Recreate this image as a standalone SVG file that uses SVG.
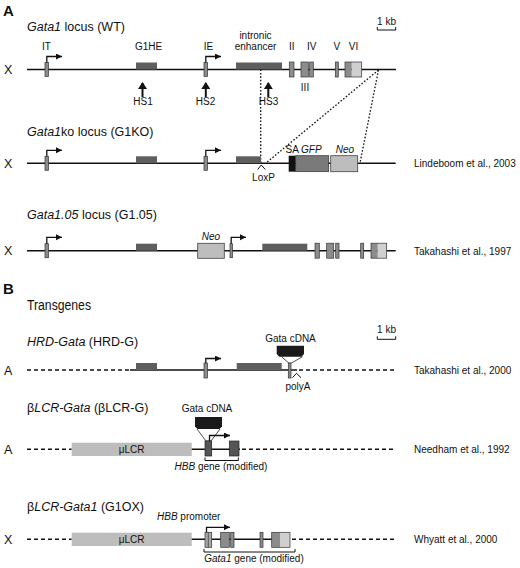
<svg xmlns="http://www.w3.org/2000/svg" width="520" height="568" viewBox="0 0 520 568">
<style>
text{font-family:"Liberation Sans",Arial,sans-serif;fill:#111}
.t{font-size:12.5px}
.s{font-size:10px}
.m{text-anchor:middle}
.i{font-style:italic}
.ln{stroke:#111;stroke-width:1.4;fill:none}
.dash{stroke:#111;stroke-width:1.4;fill:none;stroke-dasharray:4,3}
.dot{stroke:#111;stroke-width:1.3;fill:none;stroke-dasharray:1.6,1.8}
.reg{fill:#5e5e5e}
.ex{fill:#8c8c8c;stroke:#333;stroke-width:0.7}
.exd{fill:#555;stroke:#222;stroke-width:0.7}
.lt{fill:#cfcfcf;stroke:none}
.neo{fill:#bdbdbd;stroke:#444;stroke-width:0.8}
.lcr{fill:#bdbdbd}
.ba{stroke:#111;stroke-width:1.3;fill:none;marker-end:url(#ah)}
.hs{stroke:#111;stroke-width:2;fill:none;marker-end:url(#hh)}
.thin{stroke:#111;stroke-width:1;fill:none}
</style>
<defs>
<marker id="ah" markerUnits="userSpaceOnUse" markerWidth="7" markerHeight="7" refX="6" refY="3" orient="auto"><path d="M0,0 L6,3 L0,6 Z" fill="#111"/></marker>
<marker id="hh" markerUnits="userSpaceOnUse" markerWidth="9" markerHeight="9" refX="6" refY="4.5" orient="auto"><path d="M0,0 L7,4.5 L0,9 Z" fill="#111"/></marker>
</defs>

<text x="3" y="16" style="font-size:15px;font-weight:bold">A</text>

<g id="wt">
<text class="t" x="27" y="31"><tspan class="i">Gata1</tspan> locus (WT)</text>
<text class="t" x="4" y="74">X</text>
<line class="ln" x1="27" y1="69.5" x2="396" y2="69.5"/>
<rect class="ex" x="45" y="62.5" width="3.5" height="14"/>
<path class="ba" d="M46.8,62.5 V56.5 H62"/>
<text class="s m" x="46.5" y="50">IT</text>
<rect class="reg" x="136" y="62.5" width="21" height="7"/>
<text class="s m" x="148.5" y="50">G1HE</text>
<line class="hs" x1="142.5" y1="97" x2="142.5" y2="83"/>
<text class="s m" x="143" y="105">HS1</text>
<rect class="ex" x="204" y="62.5" width="3.5" height="14"/>
<path class="ba" d="M205.8,62.5 V56.5 H221"/>
<text class="s m" x="208.5" y="50">IE</text>
<line class="hs" x1="205.8" y1="97" x2="205.8" y2="83"/>
<text class="s m" x="205.5" y="105">HS2</text>
<rect class="reg" x="236" y="62.5" width="46" height="7"/>
<text class="s m" x="255.5" y="38.5">intronic</text>
<text class="s m" x="255.5" y="50">enhancer</text>
<line class="hs" x1="268.3" y1="97" x2="268.3" y2="83"/>
<text class="s m" x="268.5" y="105">HS3</text>
<rect class="ex" x="289.3" y="62" width="4.7" height="15"/>
<rect class="ex" x="301" y="62" width="7.3" height="15"/>
<rect class="ex" x="309.7" y="62" width="3.6" height="15"/>
<rect class="ex" x="335.3" y="62" width="3" height="15"/>
<rect class="lt" x="351.7" y="62" width="10" height="15"/>
<rect fill="#8c8c8c" x="345" y="62" width="6.7" height="15"/>
<rect x="345" y="62" width="16.7" height="15" fill="none" stroke="#333" stroke-width="0.7"/>
<text class="s m" x="291.7" y="50">II</text>
<text class="s m" x="311.7" y="50">IV</text>
<text class="s m" x="336.8" y="50">V</text>
<text class="s m" x="353.5" y="50">VI</text>
<text class="s m" x="305" y="91">III</text>
<text class="s m" x="386.5" y="25">1 kb</text>
<path class="thin" d="M377.3,27 V30 H395.7 V27"/>
</g>

<g id="connectors">
<path class="dot" d="M260.7,69.5 V163.3"/>
<path class="dot" d="M378.5,70 L266,163"/>
<path class="dot" d="M378.5,70 L360,163"/>
</g>

<g id="g1ko">
<text class="t" x="27" y="136"><tspan class="i">Gata1</tspan>ko locus (G1KO)</text>
<text class="t" x="4" y="168">X</text>
<line class="ln" x1="27" y1="163.3" x2="395.7" y2="163.3"/>
<rect class="ex" x="45" y="156.3" width="3.5" height="14"/>
<path class="ba" d="M46.8,156.3 V150.3 H62"/>
<rect class="reg" x="136" y="156.3" width="21" height="7"/>
<rect class="ex" x="204" y="156.3" width="3.5" height="14"/>
<path class="ba" d="M205.8,156.3 V150.3 H221"/>
<rect class="reg" x="236" y="156.3" width="25" height="7"/>
<path class="thin" d="M257.7,169.5 L261.3,165 L265.3,169.5"/>
<text class="s m" x="263.5" y="181">LoxP</text>
<rect fill="#111" x="288.7" y="155.7" width="7" height="16"/>
<rect fill="#7a7a7a" stroke="#333" stroke-width="0.7" x="295.7" y="155.7" width="33" height="16"/>
<rect class="neo" x="330.7" y="155.7" width="27" height="16"/>
<text class="s" x="285.5" y="152.5">SA <tspan class="i">GFP</tspan></text>
<text class="s m i" x="345" y="152.5">Neo</text>
<text class="s" x="414" y="167">Lindeboom et al., 2003</text>
</g>

<g id="g105">
<text class="t" x="27" y="219"><tspan class="i">Gata1.05</tspan> locus (G1.05)</text>
<text class="t" x="4" y="255">X</text>
<line class="ln" x1="27" y1="250.7" x2="395.7" y2="250.7"/>
<rect class="ex" x="45" y="243.7" width="3.5" height="14"/>
<path class="ba" d="M46.8,243.7 V237.3 H62"/>
<rect class="reg" x="136" y="243.7" width="21" height="7"/>
<rect class="neo" x="197.7" y="243.3" width="26.6" height="15"/>
<text class="s m i" x="211" y="239.5">Neo</text>
<rect class="ex" x="230" y="243.7" width="2.5" height="14"/>
<path class="ba" d="M231.2,243.7 V237.3 H246"/>
<rect class="reg" x="262.3" y="243.7" width="45" height="7"/>
<rect class="ex" x="315" y="243.2" width="4.3" height="15"/>
<rect class="ex" x="326.7" y="243.2" width="7" height="15"/>
<rect class="ex" x="335.7" y="243.2" width="3.3" height="15"/>
<rect class="ex" x="360.7" y="243.2" width="3" height="15"/>
<rect class="lt" x="377.7" y="243.2" width="9" height="15"/>
<rect fill="#8c8c8c" x="371" y="243.2" width="6.7" height="15"/>
<rect x="371" y="243.2" width="15.7" height="15" fill="none" stroke="#333" stroke-width="0.7"/>
<text class="s" x="414" y="255">Takahashi et al., 1997</text>
</g>

<text x="3" y="294" style="font-size:15px;font-weight:bold">B</text>
<text x="27" y="309.5" style="font-size:14px" textLength="64" lengthAdjust="spacingAndGlyphs">Transgenes</text>

<g id="hrdg">
<text class="t" x="27" y="346"><tspan class="i">HRD-Gata</tspan> (HRD-G)</text>
<text class="t" x="4" y="374.5">A</text>
<line class="dash" x1="27" y1="370" x2="130" y2="370"/>
<line class="ln" x1="130" y1="370" x2="297" y2="370"/>
<line class="dash" x1="299" y1="370" x2="396" y2="370"/>
<rect class="reg" x="136" y="363" width="21" height="7"/>
<rect class="ex" x="204" y="363" width="3.5" height="15"/>
<path class="ba" d="M205.8,363 V358.5 H221"/>
<rect class="reg" x="236.7" y="363" width="45" height="7"/>
<path d="M281.5,356.7 L289,363.3 L291,363.3 L302.5,356.7" fill="#fff" stroke="#222" stroke-width="0.8"/>
<path d="M276.7,345.7 H304 V354 L301.5,356.7 H279.2 L276.7,354 Z" fill="#1a1a1a"/>
<rect class="ex" x="288.3" y="363" width="2.7" height="15"/>
<text class="s m" x="290.5" y="341.5">Gata cDNA</text>
<path class="thin" d="M292.5,377.7 L296.5,373.3 L301,377.7"/>
<text class="s m" x="298" y="390">polyA</text>
<text class="s m" x="386.5" y="333">1 kb</text>
<path class="thin" d="M377.3,336.3 V339.3 H395.7 V336.3"/>
<text class="s" x="414" y="374">Takahashi et al., 2000</text>
</g>

<g id="blcrg">
<text class="t" x="27" y="411.7">β<tspan class="i">LCR-Gata</tspan> (βLCR-G)</text>
<text class="t" x="4" y="454">A</text>
<line class="dash" x1="27" y1="449.3" x2="71.7" y2="449.3"/>
<rect class="lcr" x="71.7" y="442.7" width="120" height="13.3"/>
<text class="s m" x="131.7" y="453">μLCR</text>
<line class="ln" x1="191.7" y1="449.3" x2="240" y2="449.3"/>
<line class="dash" x1="242" y1="449.3" x2="396" y2="449.3"/>
<path d="M197,429 L206,441 L211,441 L220,429" fill="#fff" stroke="#222" stroke-width="0.8"/>
<path d="M195,417 H222 V426.5 L219.5,429 H197.5 L195,426.5 Z" fill="#1a1a1a"/>
<rect class="exd" x="205" y="441" width="6.7" height="15"/>
<rect class="exd" x="229.3" y="441" width="9.7" height="15"/>
<path class="ba" d="M209.5,441 V435.5 H230"/>
<text class="s m" x="207" y="411.5">Gata cDNA</text>
<path class="thin" d="M205,457.5 V460.5 H238.3 V457.5"/>
<text class="s m" x="221" y="469.5"><tspan class="i">HBB</tspan> gene (modified)</text>
<text class="s" x="414" y="453">Needham et al., 1992</text>
</g>

<g id="g1ox">
<text class="t" x="27" y="510.7">β<tspan class="i">LCR-Gata1</tspan> (G1OX)</text>
<text class="t" x="4" y="544">X</text>
<line class="dash" x1="27" y1="539.3" x2="71.7" y2="539.3"/>
<rect class="lcr" x="71.7" y="532.7" width="120" height="13.3"/>
<text class="s m" x="131.7" y="543">μLCR</text>
<line class="ln" x1="191.7" y1="539.3" x2="290" y2="539.3"/>
<line class="dash" x1="292" y1="539.3" x2="396" y2="539.3"/>
<rect fill="#a8a8a8" stroke="#333" stroke-width="0.7" x="205" y="532.3" width="6.7" height="15"/>
<line x1="208.3" y1="532.3" x2="208.3" y2="547.3" stroke="#333" stroke-width="0.7"/>
<rect class="ex" x="220.7" y="532.3" width="8.6" height="15"/>
<rect class="ex" x="230.7" y="532.3" width="3.3" height="15"/>
<rect class="ex" x="260" y="532.3" width="3" height="15"/>
<rect class="lt" x="280" y="532.3" width="10" height="15"/>
<rect fill="#8c8c8c" x="271.7" y="532.3" width="8.3" height="15"/>
<rect x="271.7" y="532.3" width="18.3" height="15" fill="none" stroke="#333" stroke-width="0.7"/>
<path class="ba" d="M206.5,532.3 V527.3 H230"/>
<text class="s m" x="188.7" y="520"><tspan class="i">HBB</tspan> promoter</text>
<path class="thin" d="M204,549 V552 H295 V549"/>
<text class="s m" x="254" y="561.5"><tspan class="i">Gata1</tspan> gene (modified)</text>
<text class="s" x="414" y="543">Whyatt et al., 2000</text>
</g>
</svg>
